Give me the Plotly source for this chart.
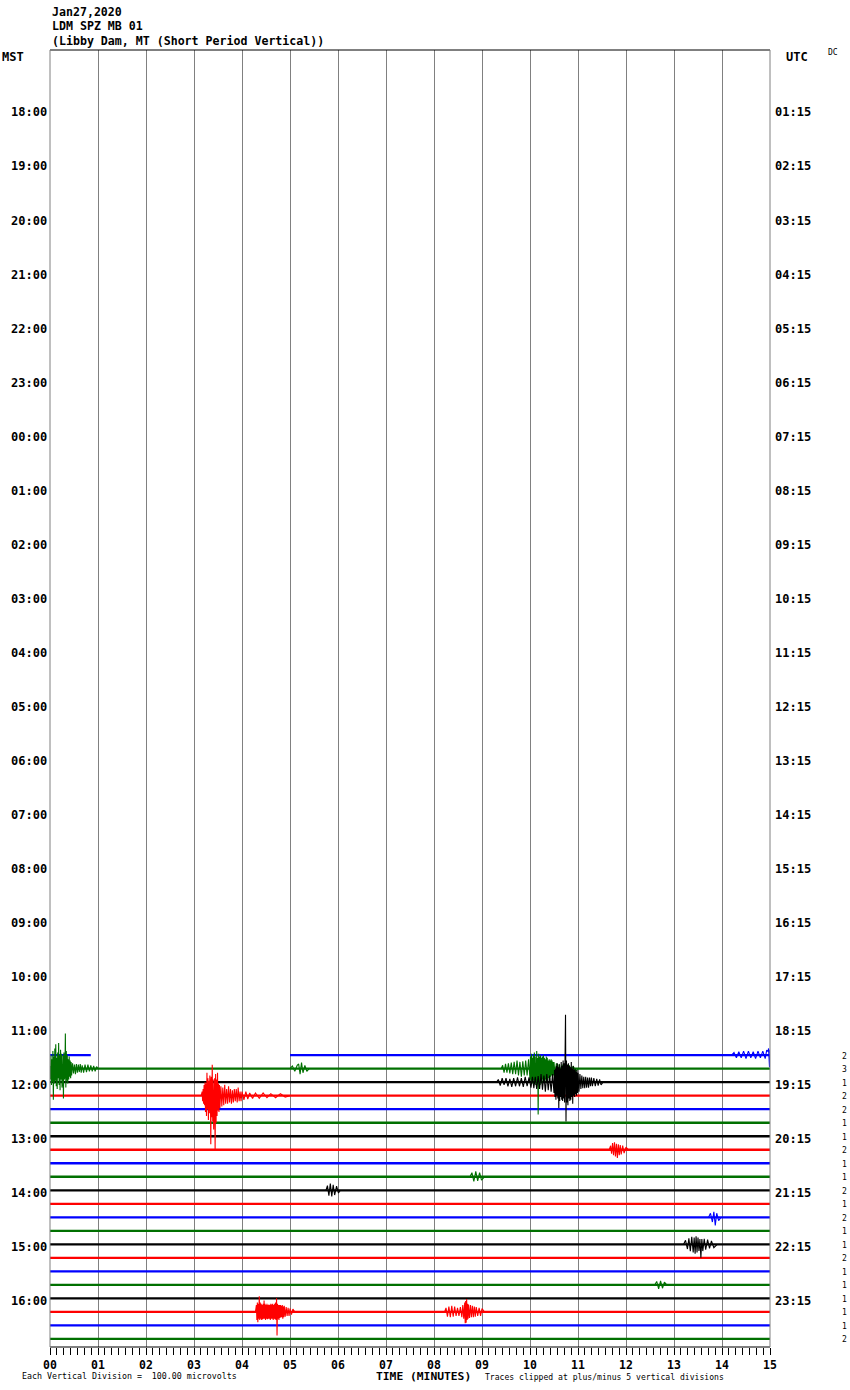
import plotly.graph_objects as go

# ---------------- text ----------------
date_text = "Jan27,2020"
station_text = "LDM SPZ MB 01"
location_text = "(Libby Dam, MT (Short Period Vertical))"
left_zone = "MST"
right_zone = "UTC"
dc_text = "DC"
division_text = "Each Vertical Division =  100.00 microvolts"
xaxis_title = "TIME (MINUTES)"
clip_text = "Traces clipped at plus/minus 5 vertical divisions"

# ---------------- axis labels ----------------
minute_ticks = list(range(0, 16))
minute_labels = ["%02d" % m for m in minute_ticks]
minor_per_minute = 7

left_hours = ["18:00", "19:00", "20:00", "21:00", "22:00", "23:00", "00:00", "01:00",
              "02:00", "03:00", "04:00", "05:00", "06:00", "07:00", "08:00", "09:00",
              "10:00", "11:00", "12:00", "13:00", "14:00", "15:00", "16:00"]
right_hours = ["01:15", "02:15", "03:15", "04:15", "05:15", "06:15", "07:15", "08:15",
               "09:15", "10:15", "11:15", "12:15", "13:15", "14:15", "15:15", "16:15",
               "17:15", "18:15", "19:15", "20:15", "21:15", "22:15", "23:15"]
hour_rows = [4, 8, 12, 16, 20, 24, 28, 32, 36, 40, 44, 48, 52, 56, 60, 64, 68, 72,
             76, 80, 84, 88, 92]

# ---------------- rows with data ----------------
row_labels = ["11:30", "11:45", "12:00", "12:15", "12:30", "12:45", "13:00", "13:15",
              "13:30", "13:45", "14:00", "14:15", "14:30", "14:45", "15:00", "15:15",
              "15:30", "15:45", "16:00", "16:15", "16:30", "16:45"]
row_index = [74, 75, 76, 77, 78, 79, 80, 81, 82, 83, 84, 85, 86, 87, 88, 89, 90, 91,
             92, 93, 94, 95]
right_counts = [2, 3, 1, 2, 2, 1, 1, 2, 1, 1, 2, 1, 2, 1, 1, 2, 1, 1, 1, 1, 1, 2]
quarter_colors = {"00": "#000000", "15": "#ff0000", "30": "#0000ff", "45": "#007000"}

# data segments (minutes) - default is the full 15 minutes
full_segment = [[0.0, 15.0]]
row_1130_segments = [[0.0, 0.85], [5.0, 15.0]]

# ---------------- events (minutes, divisions) ----------------
ev_a_t = [0.00, 0.01, 0.02, 0.03, 0.04, 0.05, 0.06, 0.07, 0.08, 0.09, 0.10, 0.11, 0.12,
          0.13, 0.14, 0.15, 0.16, 0.17, 0.18, 0.19, 0.20, 0.21, 0.22, 0.23, 0.24, 0.25,
          0.26, 0.27, 0.28, 0.29, 0.30, 0.31, 0.32, 0.33, 0.34, 0.35, 0.36, 0.37, 0.38,
          0.39, 0.40, 0.41, 0.42, 0.43, 0.44, 0.45, 0.47, 0.49, 0.51, 0.53, 0.55, 0.57,
          0.59, 0.61, 0.63, 0.65, 0.67, 0.70, 0.73, 0.76, 0.79, 0.82, 0.85, 0.88, 0.91,
          0.94, 0.97, 1.00]
ev_a_v = [0.2, -0.8, 1.0, -1.2, 0.7, -1.0, 1.3, -2.3, 0.9, -1.1, 1.5, -0.9, 1.8,
          -1.3, 0.8, -1.5, 1.2, -0.7, 1.9, -1.2, 1.0, -1.6, 1.4, -0.8, 1.1, -1.4,
          -0.9, 1.0, -2.2, 1.2, -0.8, -0.6, 2.6, -1.4, 1.3, -0.9, 1.0, -1.1, 0.7,
          -0.8, 0.9, -0.6, 0.6, -0.7, 0.5, -0.5, 0.4, -0.35, 0.3, -0.4, 0.35, -0.3,
          0.3, -0.25, 0.35, -0.3, 0.25, -0.3, 0.3, -0.25, 0.3, -0.2, 0.25, -0.2, 0.2,
          -0.2, 0.15, 0.0]

ev_m_t = [5.00, 5.05, 5.10, 5.15, 5.18, 5.21, 5.24, 5.27, 5.31, 5.35, 5.40]
ev_m_v = [0.0, 0.2, -0.2, 0.25, 0.35, -0.4, 0.45, -0.3, 0.25, -0.2, 0.0]

ev_b_t = [3.15, 3.17, 3.18, 3.19, 3.20, 3.21, 3.22, 3.23, 3.24, 3.25, 3.26, 3.27, 3.28,
          3.29, 3.30, 3.31, 3.32, 3.33, 3.34, 3.35, 3.36, 3.37, 3.38, 3.39, 3.40, 3.41,
          3.42, 3.43, 3.44, 3.45, 3.46, 3.47, 3.48, 3.49, 3.50, 3.51, 3.52, 3.53, 3.54,
          3.56, 3.58, 3.60, 3.62, 3.64, 3.66, 3.68, 3.70, 3.72, 3.74, 3.76, 3.78, 3.80,
          3.82, 3.84, 3.86, 3.88, 3.90, 3.92, 3.94, 3.96, 3.98, 4.00, 4.04, 4.08, 4.12,
          4.16, 4.22, 4.28, 4.36, 4.44, 4.52, 4.60, 4.70, 4.80, 4.90, 5.00]
ev_b_v = [0.0, 0.3, -0.4, 0.5, -0.6, 0.8, -0.7, 1.0, -1.2, 0.9, -1.5, 1.7, -1.0,
          1.3, -1.8, 1.1, -1.3, 1.5, 1.0, -3.6, 1.4, -1.6, 2.3, -1.9, 1.2, -2.5,
          1.0, 1.3, -4.0, 1.6, -2.0, 1.2, -1.5, 1.7, -1.1, 0.9, -1.2, 0.8, -0.9,
          0.7, -0.8, 0.6, -0.7, 0.8, -0.6, 0.5, -0.6, 0.7, -0.5, 0.5, -0.6, 0.4,
          -0.5, 0.5, -0.4, 0.5, -0.5, 0.6, -0.4, 0.3, -0.4, 0.3, -0.3, 0.3, -0.25,
          0.2, -0.2, 0.2, -0.2, 0.2, -0.15, 0.15, -0.15, 0.15, -0.1, 0.0]

ev_c_t = [9.40, 9.43, 9.46, 9.49, 9.52, 9.55, 9.58, 9.61, 9.64, 9.67, 9.70, 9.73, 9.76,
          9.79, 9.82, 9.85, 9.88, 9.91, 9.94, 9.97, 10.00, 10.01, 10.02, 10.03, 10.04,
          10.05, 10.06, 10.07, 10.08, 10.09, 10.10, 10.11, 10.12, 10.13, 10.14, 10.15,
          10.16, 10.17, 10.18, 10.19, 10.20, 10.21, 10.22, 10.23, 10.24, 10.25, 10.26,
          10.27, 10.28, 10.29, 10.30, 10.31, 10.32, 10.33, 10.34, 10.35, 10.36, 10.37,
          10.38, 10.39, 10.40, 10.41, 10.42, 10.43, 10.44, 10.45, 10.46, 10.47, 10.48,
          10.49, 10.50, 10.52, 10.55, 10.58, 10.61, 10.64, 10.67, 10.70, 10.74, 10.78,
          10.82, 10.86, 10.90, 10.95, 11.00]
ev_c_v = [0.0, 0.25, -0.3, 0.35, -0.3, 0.4, -0.35, 0.45, -0.4, 0.5, -0.4, 0.6, -0.5,
          0.5, -0.6, 0.55, -0.5, 0.6, -0.5, 0.7, -0.8, 0.9, -0.9, 1.1, -1.0,
          0.8, -1.1, 1.0, -0.9, 1.2, -1.0, 0.9, -1.2, -0.8, 1.3, -1.1,
          0.8, -3.4, 1.1, -1.0, 0.9, -1.2, 1.0, -0.9, 0.8, -1.1, 0.9,
          -0.8, 1.0, -0.9, 0.8, -1.0, 0.7, -0.8, 0.9, -0.7, 0.8, -0.9,
          0.6, -0.7, 0.7, -0.8, 0.6, -0.6, 0.7, -0.5, 0.6, -0.6, 0.5,
          -0.5, 0.5, -0.4, 0.4, -0.35, 0.35, -0.3, 0.3, -0.3, 0.3, -0.25,
          0.25, -0.2, 0.2, -0.2, 0.0]

ev_d_t = [9.30, 9.34, 9.38, 9.42, 9.46, 9.50, 9.54, 9.58, 9.62, 9.66, 9.70, 9.74, 9.78,
          9.82, 9.86, 9.90, 9.94, 9.98, 10.02, 10.05, 10.08, 10.11, 10.14, 10.17, 10.20,
          10.23, 10.26, 10.29, 10.32, 10.35, 10.38, 10.41, 10.44, 10.47, 10.50, 10.51,
          10.52, 10.53, 10.54, 10.55, 10.56, 10.57, 10.58, 10.59, 10.60, 10.61, 10.62,
          10.63, 10.64, 10.65, 10.66, 10.67, 10.68, 10.69, 10.70, 10.71, 10.72, 10.73,
          10.74, 10.75, 10.76, 10.77, 10.78, 10.79, 10.80, 10.81, 10.82, 10.83, 10.84,
          10.85, 10.86, 10.87, 10.88, 10.89, 10.90, 10.91, 10.92, 10.93, 10.94, 10.95,
          10.96, 10.97, 10.98, 10.99, 11.00, 11.02, 11.04, 11.06, 11.08, 11.10, 11.12,
          11.14, 11.16, 11.18, 11.20, 11.22, 11.24, 11.26, 11.28, 11.30, 11.33, 11.36,
          11.39, 11.42, 11.45, 11.48, 11.52]
ev_d_v = [0.0, 0.2, -0.25, 0.3, -0.2, 0.3, -0.3, 0.25, -0.35, 0.3, -0.3, 0.35, -0.3,
          0.3, -0.35, 0.4, -0.3, 0.35, -0.4, 0.4, -0.45, 0.4, -0.5, 0.45, -0.5,
          0.6, -0.55, 0.5, -0.7, 0.6, -0.6, 0.5, -0.7, 0.6, -0.8, 0.9,
          -1.1, 1.0, -1.3, 1.2, -1.0, 1.4, -1.2, 1.1, -1.9, 1.3, -1.4,
          1.0, -1.1, 1.5, -1.3, 1.2, -1.4, 1.6, -1.2, 1.4, -1.5, 1.3,
          5.0, -2.9, 1.6, -1.5, 1.3, -1.7, 1.4, -1.2, 1.2, -1.4, 1.1,
          -1.3, 1.5, -1.1, 1.0, -1.6, 1.2, -1.0, 0.9, -1.1, 1.0, -0.9,
          0.8, -1.0, 0.9, -0.8, 0.7, -0.7, 0.6, -0.5, 0.5, -0.45, 0.4,
          -0.45, 0.4, -0.4, 0.35, -0.4, 0.35, -0.3, 0.35, -0.3, 0.3, -0.3,
          0.25, -0.25, 0.2, -0.2, 0.0]

ev_e_t = [11.65, 11.68, 11.70, 11.72, 11.74, 11.76, 11.78, 11.80, 11.82, 11.84, 11.86,
          11.88, 11.90, 11.93, 11.96, 12.00, 12.05]
ev_e_v = [0.0, 0.3, -0.3, 0.5, -0.4, 0.55, -0.5, 0.45, -0.6, 0.4, -0.4,
          0.35, -0.35, 0.3, -0.25, 0.2, 0.0]

ev_f_t = [8.75, 8.79, 8.83, 8.87, 8.91, 8.95, 8.99, 9.05]
ev_f_v = [0.0, 0.3, -0.35, 0.4, -0.3, 0.3, -0.25, 0.0]

ev_g_t = [5.75, 5.78, 5.81, 5.84, 5.87, 5.90, 5.93, 5.97, 6.01, 6.05]
ev_g_v = [0.0, 0.35, -0.4, 0.5, -0.45, 0.4, -0.35, 0.3, -0.2, 0.0]

ev_h_t = [13.72, 13.76, 13.80, 13.83, 13.86, 13.89, 13.93, 13.98]
ev_h_v = [0.0, 0.3, -0.35, 0.4, -0.6, 0.3, -0.25, 0.0]

ev_i_t = [13.20, 13.24, 13.28, 13.31, 13.34, 13.37, 13.40, 13.42, 13.44, 13.46, 13.48,
          13.50, 13.52, 13.54, 13.56, 13.58, 13.60, 13.63, 13.66, 13.70, 13.74, 13.78,
          13.83, 13.90]
ev_i_v = [0.0, 0.3, -0.35, 0.45, -0.5, 0.55, -0.6, 0.5, -0.7, 0.6, -0.6,
          0.5, -0.5, 0.4, -1.0, 0.4, -0.5, 0.4, -0.4, 0.35, -0.3, 0.25,
          -0.25, 0.0]

ev_j_t = [12.60, 12.64, 12.68, 12.72, 12.76, 12.80, 12.85]
ev_j_v = [0.0, 0.25, -0.3, 0.3, -0.25, 0.2, 0.0]

ev_k1_t = [4.28, 4.30, 4.31, 4.32, 4.33, 4.34, 4.35, 4.36, 4.37, 4.38, 4.39, 4.40, 4.41,
           4.42, 4.43, 4.44, 4.45, 4.46, 4.47, 4.48, 4.49, 4.50, 4.51, 4.52, 4.53, 4.54,
           4.55, 4.56, 4.57, 4.58, 4.59, 4.60, 4.61, 4.62, 4.63, 4.64, 4.65, 4.66, 4.67,
           4.68, 4.69, 4.70, 4.71, 4.72, 4.73, 4.74, 4.75, 4.76, 4.77, 4.78, 4.79, 4.80,
           4.81, 4.82, 4.83, 4.84, 4.85, 4.86, 4.87, 4.88, 4.90, 4.92, 4.94, 4.96, 4.98,
           5.00, 5.03, 5.06, 5.10]
ev_k1_v = [0.0, 0.5, -0.6, 0.7, -0.76, 0.6, -0.5, 1.16, -0.6, 0.7, -0.5, 0.6, -0.6,
           0.5, -0.55, 0.6, -0.5, 0.85, -0.5, 0.6, -0.6, 0.5, -0.5, 0.6, -0.55, 0.5,
           -0.5, 0.55, -0.5, 0.5, -0.6, 0.6, -0.5, 0.55, -0.5, 0.6, -0.6, 0.5, -0.5,
           0.6, -0.55, 0.7, -0.6, 1.0, -1.75, 0.6, -0.5, 0.5, -0.6, 0.5, -0.45, 0.5,
           -0.4, 0.45, -0.4, 0.5, -0.5, 0.4, -0.4, 0.45, -0.35, 0.35, -0.3, 0.3, -0.3,
           0.25, -0.2, 0.2, 0.0]

ev_k2_t = [8.22, 8.25, 8.28, 8.31, 8.34, 8.37, 8.40, 8.43, 8.46, 8.49, 8.52, 8.55, 8.58,
           8.60, 8.62, 8.64, 8.65, 8.66, 8.67, 8.68, 8.69, 8.70, 8.71, 8.72, 8.74, 8.76,
           8.78, 8.80, 8.82, 8.84, 8.86, 8.88, 8.91, 8.94, 8.97, 9.00, 9.05]
ev_k2_v = [0.0, 0.3, -0.35, 0.4, -0.4, 0.45, -0.35, 0.4, -0.3, 0.3, -0.3, 0.35, -0.4,
           0.5, -0.5, 0.7, -0.84, 0.8, -0.8, 0.96, -0.6, 0.6, -0.5, 0.55, -0.45, 0.5,
           -0.4, 0.45, -0.4, 0.4, -0.35, 0.35, -0.3, 0.3, -0.3, 0.25, 0.0]

ev_l_t = [14.20, 14.25, 14.30, 14.35, 14.40, 14.45, 14.50, 14.55, 14.60, 14.65, 14.70,
          14.75, 14.80, 14.85, 14.90, 14.93, 14.96, 14.97, 14.99, 15.00]
ev_l_v = [0.0, 0.2, -0.2, 0.25, -0.2, 0.3, -0.25, 0.3, -0.2, 0.25, -0.25,
          0.3, -0.2, 0.3, -0.25, 0.35, 0.3, 0.5, -0.9, 0.4]

events = [
    ("11:45", ev_a_t, ev_a_v),
    ("11:45", ev_m_t, ev_m_v),
    ("11:45", ev_c_t, ev_c_v),
    ("12:00", ev_d_t, ev_d_v),
    ("12:15", ev_b_t, ev_b_v),
    ("13:15", ev_e_t, ev_e_v),
    ("13:45", ev_f_t, ev_f_v),
    ("14:00", ev_g_t, ev_g_v),
    ("14:30", ev_h_t, ev_h_v),
    ("15:00", ev_i_t, ev_i_v),
    ("15:45", ev_j_t, ev_j_v),
    ("16:15", ev_k1_t, ev_k1_v),
    ("16:15", ev_k2_t, ev_k2_v),
    ("11:30", ev_l_t, ev_l_v),
]

CLIP = 5.0

# ---------------- geometry (pixels) ----------------
W, H = 850, 1390
ML, MR, MT, MB = 50, 80, 50, 43
PW = W - ML - MR
PH = H - MT - MB


def px_x(px):
    return (px - ML) / PW


def px_y(py):
    return (H - MB - py) / PH


FONT = "DejaVu Sans Mono"

fig = go.Figure()

row_of = dict(zip(row_labels, row_index))
color_of = {lab: quarter_colors[lab[-2:]] for lab in row_labels}

# baseline (background noise band) per row
for lab, r in zip(row_labels, row_index):
    segs = row_1130_segments if lab == "11:30" else full_segment
    xs, ys = [], []
    for s, e in segs:
        xs += [s, e, None]
        ys += [-r, -r, None]
    fig.add_trace(go.Scatter(x=xs, y=ys, mode="lines",
                             line=dict(color=color_of[lab], width=2.3),
                             hoverinfo="skip", showlegend=False))

# events
for lab, ts, vs in events:
    r = row_of[lab]
    ys = [-r + max(-CLIP, min(CLIP, v)) for v in vs]
    fig.add_trace(go.Scatter(x=ts, y=ys, mode="lines",
                             line=dict(color=color_of[lab], width=1.1),
                             hoverinfo="skip", showlegend=False))

annotations = []
# header
for txt, py in [(date_text, 12), (station_text, 26.5), (location_text, 41)]:
    annotations.append(dict(text=txt, x=px_x(50), y=px_y(py), xref="paper", yref="paper",
                            xanchor="left", yanchor="middle", showarrow=False,
                            font=dict(family=FONT, size=11.6, color="black", weight="bold")))
annotations.append(dict(text=left_zone, x=px_x(0), y=px_y(57), xref="paper", yref="paper",
                        xanchor="left", yanchor="middle", showarrow=False,
                        font=dict(family=FONT, size=12, color="black", weight="bold")))
annotations.append(dict(text=right_zone, x=px_x(784), y=px_y(57), xref="paper", yref="paper",
                        xanchor="left", yanchor="middle", showarrow=False,
                        font=dict(family=FONT, size=12, color="black", weight="bold")))
annotations.append(dict(text=dc_text, x=px_x(826), y=px_y(53), xref="paper", yref="paper",
                        xanchor="left", yanchor="middle", showarrow=False,
                        font=dict(family=FONT, size=8, color="black")))

# hour labels
for lh, rh, r in zip(left_hours, right_hours, hour_rows):
    annotations.append(dict(text=lh, x=px_x(48.5), y=-r, xref="paper", yref="y",
                            xanchor="right", yanchor="middle", yshift=-3, showarrow=False,
                            font=dict(family=FONT, size=12, color="black", weight="bold")))
    annotations.append(dict(text=rh, x=px_x(773), y=-r, xref="paper", yref="y",
                            xanchor="left", yanchor="middle", yshift=-3, showarrow=False,
                            font=dict(family=FONT, size=12, color="black", weight="bold")))

# per-row counts at right
for c, r in zip(right_counts, row_index):
    annotations.append(dict(text=str(c), x=px_x(840), y=-r, xref="paper", yref="y",
                            xanchor="left", yanchor="middle", yshift=-1, showarrow=False,
                            font=dict(family=FONT, size=8, color="black")))

# bottom texts
annotations.append(dict(text=division_text, x=px_x(20), y=px_y(1376), xref="paper", yref="paper",
                        xanchor="left", yanchor="middle", showarrow=False,
                        font=dict(family=FONT, size=8.3, color="black")))
annotations.append(dict(text=xaxis_title, x=px_x(374), y=px_y(1376.5), xref="paper", yref="paper",
                        xanchor="left", yanchor="middle", showarrow=False,
                        font=dict(family=FONT, size=11.3, color="black", weight="bold")))
annotations.append(dict(text=clip_text, x=px_x(483), y=px_y(1376.5), xref="paper", yref="paper",
                        xanchor="left", yanchor="middle", showarrow=False,
                        font=dict(family=FONT, size=8.1, color="black")))

shapes = [
    dict(type="line", xref="paper", yref="paper", x0=0, x1=1, y0=1, y1=1,
         line=dict(color="black", width=1)),
    dict(type="line", xref="paper", yref="paper", x0=0, x1=1, y0=0, y1=0,
         line=dict(color="black", width=1)),
    dict(type="line", xref="paper", yref="paper", x0=0, x1=0, y0=0, y1=1,
         line=dict(color="#808080", width=1)),
    dict(type="line", xref="paper", yref="paper", x0=1, x1=1, y0=0, y1=1,
         line=dict(color="#808080", width=1)),
]

minor_vals = [m + k / minor_per_minute for m in range(15) for k in range(1, minor_per_minute)]

fig.update_layout(
    width=W, height=H,
    margin=dict(l=ML, r=MR, t=MT, b=MB),
    paper_bgcolor="white", plot_bgcolor="white",
    annotations=annotations, shapes=shapes,
    xaxis=dict(range=[0, 15], showgrid=True, gridcolor="#808080", gridwidth=1,
               tickmode="array", tickvals=minute_ticks, ticktext=minute_labels,
               ticks="outside", ticklen=7, tickwidth=1, tickcolor="black",
               tickfont=dict(family=FONT, size=11.5, color="black", weight="bold"),
               zeroline=False, showline=False,
               minor=dict(tickmode="array", tickvals=minor_vals, ticks="outside",
                          ticklen=7, tickwidth=1, tickcolor="black", showgrid=False)),
    yaxis=dict(range=[-95.6, 0.4], showgrid=False, zeroline=False,
               showticklabels=False, ticks=""),
)

fig.write_html("out.html", config={"displayModeBar": False},
               post_script="document.body.style.margin='0';document.body.style.padding='0';")
